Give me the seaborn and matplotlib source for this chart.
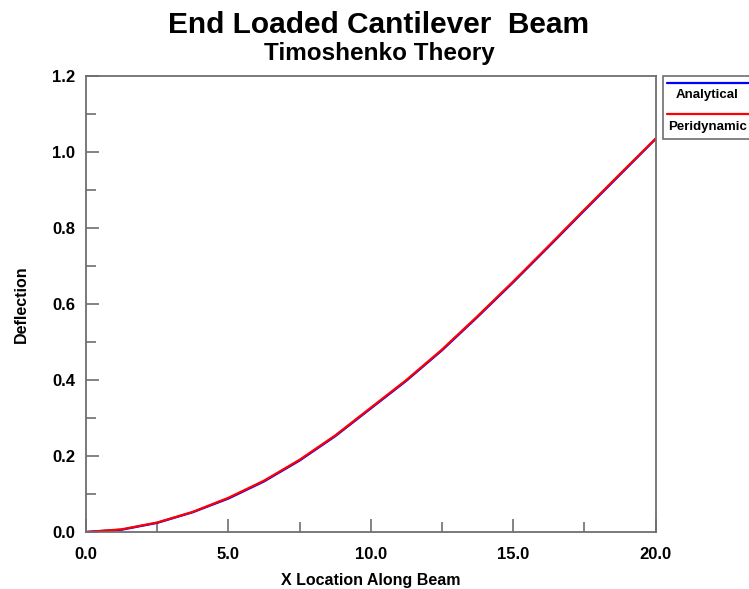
import numpy as np
import pandas as pd
import matplotlib
matplotlib.use("Agg")
import matplotlib.pyplot as plt
from matplotlib.patches import Rectangle
from matplotlib.lines import Line2D
from matplotlib.ticker import MultipleLocator, FormatStrFormatter
import seaborn as sns

# Deflection along the beam, sampled at x positions
x_pos = [0.0, 1.25, 2.5, 3.75, 5.0, 6.25, 7.5, 8.75, 10.0,
         11.25, 12.5, 13.75, 15.0, 16.25, 17.5, 18.75, 20.0]
analytical = [0.0, 0.006, 0.024, 0.052, 0.088, 0.133, 0.188, 0.252, 0.325,
              0.398, 0.478, 0.566, 0.657, 0.751, 0.846, 0.940, 1.034]
peridynamic = [0.0, 0.007, 0.025, 0.053, 0.090, 0.135, 0.190, 0.254, 0.327,
               0.400, 0.480, 0.568, 0.659, 0.753, 0.848, 0.942, 1.035]
series_names = ["Analytical", "Peridynamic"]
series_colors = ["#0000ff", "#ff0000"]

df = pd.concat([
    pd.DataFrame({"x": x_pos, "y": analytical, "series": series_names[0]}),
    pd.DataFrame({"x": x_pos, "y": peridynamic, "series": series_names[1]}),
], ignore_index=True)

sns.set_style("white")
plt.rcParams["font.family"] = ["Liberation Sans", "DejaVu Sans"]
plt.rcParams["font.weight"] = "bold"
plt.rcParams["text.color"] = "black"
plt.rcParams["axes.labelcolor"] = "black"
plt.rcParams["xtick.labelcolor"] = "black"
plt.rcParams["ytick.labelcolor"] = "black"

W, H = 749, 589
fig = plt.figure(figsize=(W / 100, H / 100), dpi=100)
left, right, top, bottom = 86, 655.5, 76, 532
ax = fig.add_axes([left / W, 1 - bottom / H, (right - left) / W, (bottom - top) / H])

sns.lineplot(data=df, x="x", y="y", hue="series", palette=series_colors,
             linewidth=1.6, legend=False, ax=ax, sort=False)

ax.set_xlim(0, 20)
ax.set_ylim(0, 1.2)
ax.xaxis.set_major_locator(MultipleLocator(5))
ax.xaxis.set_minor_locator(MultipleLocator(2.5))
ax.yaxis.set_major_locator(MultipleLocator(0.2))
ax.yaxis.set_minor_locator(MultipleLocator(0.1))
ax.xaxis.set_major_formatter(FormatStrFormatter("%.1f"))
ax.yaxis.set_major_formatter(FormatStrFormatter("%.1f"))

spine_col = "#6e6e6e"
for s in ax.spines.values():
    s.set_visible(True)
    s.set_color(spine_col)
    s.set_linewidth(1.3)
ax.tick_params(which="both", direction="in", color=spine_col, width=1.2,
               bottom=True, left=True, top=False, right=False)
ax.tick_params(which="major", length=9.5, labelsize=12)
ax.tick_params(axis="x", which="major", pad=11)
ax.tick_params(axis="y", which="major", pad=8)
ax.tick_params(which="minor", length=7.5)
for lab in ax.get_xticklabels() + ax.get_yticklabels():
    lab.set_fontweight("bold")

ax.set_xlabel("X Location Along Beam", fontsize=11.5, fontweight="bold", labelpad=8)
ax.set_ylabel("Deflection", fontsize=11.5, fontweight="bold", labelpad=16.5)

fig.text(379 / W, 1 - 33 / H, "End Loaded Cantilever  Beam", ha="center",
         va="baseline", fontsize=21.5, fontweight="bold")
fig.text(379 / W, 1 - 60 / H, "Timoshenko Theory", ha="center",
         va="baseline", fontsize=17.5, fontweight="bold")

# Legend panel at the right edge
box_l, box_t, box_b = 663, 76, 139
fig.patches.append(Rectangle((box_l / W, 1 - box_b / H), (770 - box_l) / W,
                             (box_b - box_t) / H, transform=fig.transFigure,
                             facecolor="white", edgecolor=spine_col,
                             linewidth=1.2, clip_on=False))
for name, col, ly, ty, tx in [(series_names[0], series_colors[0], 83, 98, 676),
                             (series_names[1], series_colors[1], 114, 130, 668)]:
    fig.lines.append(Line2D([667 / W, 1.02], [1 - ly / H, 1 - ly / H],
                            transform=fig.transFigure, color=col, linewidth=1.6))
    fig.text(tx / W, 1 - ty / H, name, ha="left", va="baseline",
             fontsize=9.5, fontweight="bold")

fig.savefig("out.png", dpi=100)
